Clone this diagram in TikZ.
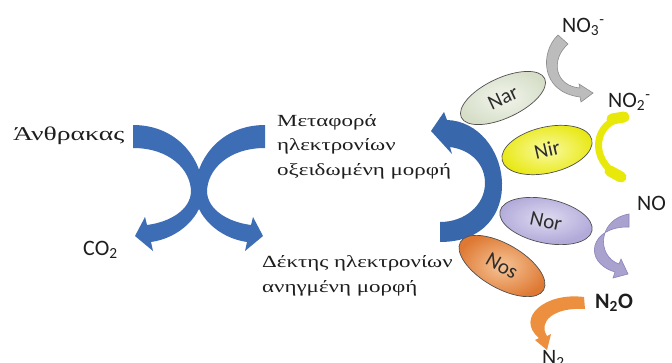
\documentclass[tikz,border=0pt]{standalone}
\usepackage{fontspec}
\usetikzlibrary{shapes.geometric}
\newfontfamily\grk{Liberation Serif}[FakeStretch=1.35]
\newfontfamily\grkwide{Liberation Serif}[FakeStretch=1.42]
\newfontfamily\lab{Carlito}

\definecolor{xblue}{RGB}{61,109,181}
\definecolor{bblue}{RGB}{56,103,172}
\definecolor{txt}{RGB}{30,30,30}
\definecolor{enzline}{RGB}{80,80,80}
\definecolor{enztext}{RGB}{45,45,45}
\definecolor{narout}{RGB}{214,222,200}
\definecolor{narin}{RGB}{242,245,236}
\definecolor{nirout}{RGB}{232,232,20}
\definecolor{nirin}{RGB}{250,250,160}
\definecolor{norout}{RGB}{178,171,218}
\definecolor{norin}{RGB}{222,219,240}
\definecolor{nosout}{RGB}{222,120,50}
\definecolor{nosin}{RGB}{246,196,150}
\definecolor{greyarr}{RGB}{188,188,188}
\definecolor{greyedge}{RGB}{140,140,140}
\definecolor{yelarr}{RGB}{232,232,10}
\definecolor{purarr}{RGB}{169,162,207}
\definecolor{puredge}{RGB}{140,132,186}
\definecolor{orarr}{RGB}{236,143,62}

\tikzset{
  enz/.style={ellipse, draw=enzline, line width=0.7pt, inner sep=0pt,
    font=\lab\fontsize{21}{21}\selectfont, text=enztext},
  greek/.style={font=\grk\fontsize{17}{20}\selectfont, anchor=base west,
    inner sep=0pt, text=txt},
  chem/.style={font=\lab\fontsize{22}{22}\selectfont, anchor=base west,
    inner sep=0pt, text=txt},
}

\begin{document}
\begin{tikzpicture}[x=1pt,y=-1pt]
\useasboundingbox (0,0) rectangle (672,362);
\fill[white] (0,0) rectangle (672,362);

% the crossing pair of curved arrows (carbon -> CO2, acceptor ox -> red)
\fill[xblue] (133,125) .. controls (178,125) and (203,160) .. (203,192)
  .. controls (203,215) and (180,238) .. (151,242) -- (153,251) -- (135,236)
  -- (145,217) -- (147,225) .. controls (170,222) and (190,210) .. (191,192)
  .. controls (191,170) and (170,148) .. (133,148) -- cycle;
\begin{scope}[shift={(398,0)}, xscale=-1]
\fill[xblue] (133,125) .. controls (178,125) and (203,160) .. (203,192)
  .. controls (203,215) and (180,238) .. (151,242) -- (153,251) -- (135,236)
  -- (145,217) -- (147,225) .. controls (170,222) and (190,210) .. (191,192)
  .. controls (191,170) and (170,148) .. (133,148) -- cycle;
\end{scope}

% electron flow back to the acceptor
\fill[bblue] (440,242) .. controls (485,242) and (503,212) .. (502,183)
  .. controls (501,150) and (478,121) .. (447,120) -- (444,112) -- (431,131)
  -- (452,154) -- (450,147) .. controls (472,150) and (485,165) .. (485,183)
  .. controls (485,205) and (465,222) .. (440,222) -- cycle;

% reductase enzymes
\node[enz, shade, inner color=narin, outer color=narout, rotate=25,
  minimum width=92pt, minimum height=40pt] (nar) at (503,98) {Nar};
\node[enz, shade, inner color=nirin, outer color=nirout, rotate=13,
  minimum width=92pt, minimum height=46pt] (nir) at (547,150) {Nir};
\node[enz, shade, inner color=norin, outer color=norout, rotate=-12,
  minimum width=94pt, minimum height=44pt] (nor) at (546,221) {Nor};
\node[enz, shade, inner color=nosin, outer color=nosout, rotate=-30,
  minimum width=96pt, minimum height=44pt] (nos) at (502,266) {Nos};

% small conversion arrows
\filldraw[fill=greyarr, draw=greyedge, line width=0.6pt]
  (558,35) .. controls (540,52) and (540,92) .. (580,97) -- (581,102)
  -- (593,93) -- (579,84) -- (580,88) .. controls (555,86) and (550,60) .. (568,44) -- cycle;
\draw[yelarr, line width=7pt, line cap=round]
  (624,118) .. controls (595,120) and (587,160) .. (620,176);
\draw[yelarr, line width=11pt, line cap=round] (612,119) -- (624,117);
\draw[yelarr, line width=11pt, line cap=round] (610,171) -- (621,177);
\filldraw[fill=purarr, draw=puredge, line width=0.6pt]
  (629,227) .. controls (590,226) and (582,262) .. (615,272) -- (613,278)
  -- (628,274) -- (621,259) -- (619,264) .. controls (596,256) and (598,219) .. (629,214) -- cycle;
\fill[orarr]
  (584,297) .. controls (545,292) and (515,318) .. (539,338) -- (535,340)
  -- (547,350) -- (551,334) -- (547,336) .. controls (538,322) and (553,307) .. (585,309) -- cycle;

% labels
\node[greek, font=\grkwide\fontsize{19.5}{22}\selectfont] (anth) at (13,140) {Άνθρακας};
\node[greek] (met1) at (277,126) {Μεταφορά};
\node[greek] (met2) at (277,150) {ηλεκτρονίων};
\node[greek] (met3) at (277,175) {οξειδωμένη μορφή};
\node[greek] (dek1) at (262,267) {Δέκτης ηλεκτρονίων};
\node[greek] (dek2) at (262,292) {ανηγμένη μορφή};

\node[chem] (co2) at (83,255) {CO\textsubscript{2}};
\node[chem] (no3) at (562,32) {NO\textsubscript{3}\textsuperscript{-}};
\node[chem] (no2) at (608,107) {NO\textsubscript{2}\textsuperscript{-}};
\node[chem] (no) at (637,210) {NO};
\node[chem, font=\lab\bfseries\fontsize{22}{22}\selectfont] (n2o) at (595,308) {N\textsubscript{2}O};
\node[chem] (n2) at (542,364) {N\textsubscript{2}};
\end{tikzpicture}
\end{document}
